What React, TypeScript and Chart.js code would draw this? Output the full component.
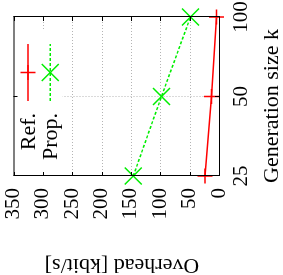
import React, { useEffect, useRef } from "react";
import { Chart, registerables } from "chart.js";

Chart.register(...registerables);

const generationSizes = [25, 50, 100];
const refOverhead = [23.7, 12.6, 4.3];
const propOverhead = [146, 98, 48.6];
const overheadTicks = [0, 50, 100, 150, 200, 250, 300, 350];
const sizeTicks = [25, 50, 100];
const seriesLabels = ["Ref.", "Prop."];
const seriesColors = ["#ff0000", "#00ee00"];
const xTitle = "Generation size k";
const yTitle = "Overhead [kbit/s]";

const FONT = '"Liberation Serif", "Times New Roman", serif';

function drawMarker(ctx: CanvasRenderingContext2D, style: string, x: number, y: number, r: number) {
  ctx.beginPath();
  if (style === "cross") {
    ctx.moveTo(x - r, y);
    ctx.lineTo(x + r, y);
    ctx.moveTo(x, y - r);
    ctx.lineTo(x, y + r);
  } else {
    const o = Math.cos(Math.PI / 4) * r;
    ctx.moveTo(x - o, y - o);
    ctx.lineTo(x + o, y + o);
    ctx.moveTo(x - o, y + o);
    ctx.lineTo(x + o, y - o);
  }
  ctx.stroke();
}

const overlay = {
  id: "overlay",
  beforeDatasetsDraw(chart: any) {
    const { ctx, chartArea: a, scales } = chart;
    ctx.save();
    ctx.strokeStyle = "#b4b4b4";
    ctx.lineWidth = 1;
    ctx.setLineDash([1, 2]);
    overheadTicks.forEach((v) => {
      if (v <= 0 || v >= 350) return;
      const y = Math.round(scales.y.getPixelForValue(v)) + 0.5;
      ctx.beginPath();
      ctx.moveTo(a.left, y);
      ctx.lineTo(a.right, y);
      ctx.stroke();
    });
    sizeTicks.forEach((k) => {
      if (k <= 25 || k >= 100) return;
      const x = Math.round(scales.x.getPixelForValue(k)) + 0.5;
      ctx.beginPath();
      ctx.moveTo(x, a.top);
      ctx.lineTo(x, a.bottom);
      ctx.stroke();
    });
    ctx.setLineDash([]);
    // opaque key box
    ctx.fillStyle = "#ffffff";
    ctx.fillRect(a.left + 4, a.top + 1, a.right - a.left - 17, 48);
    ctx.restore();
  },
  afterDatasetsDraw(chart: any) {
    const { ctx, chartArea: a, scales } = chart;
    ctx.save();
    // border
    ctx.strokeStyle = "#000";
    ctx.lineWidth = 1;
    ctx.strokeRect(a.left + 0.5, a.top + 0.5, a.right - a.left, a.bottom - a.top);
    // inward ticks (mirrored)
    ctx.beginPath();
    overheadTicks.forEach((v) => {
      const y = Math.round(scales.y.getPixelForValue(v)) + 0.5;
      ctx.moveTo(a.left, y);
      ctx.lineTo(a.left + 4, y);
      ctx.moveTo(a.right, y);
      ctx.lineTo(a.right - 4, y);
    });
    sizeTicks.forEach((k) => {
      const x = Math.round(scales.x.getPixelForValue(k)) + 0.5;
      ctx.moveTo(x, a.bottom);
      ctx.lineTo(x, a.bottom - 4);
      ctx.moveTo(x, a.top);
      ctx.lineTo(x, a.top + 4);
    });
    ctx.stroke();
    // key
    const styles = ["cross", "crossRot"];
    const radii = [7.5, 12];
    seriesLabels.forEach((label, i) => {
      const y = a.top + 14.5 + i * 22.3;
      const x0 = a.right - 84;
      const x1 = a.right - 27;
      ctx.strokeStyle = seriesColors[i];
      ctx.lineWidth = 1.5;
      ctx.setLineDash(i === 1 ? [3, 2] : []);
      ctx.beginPath();
      ctx.moveTo(x0, y);
      ctx.lineTo(x1, y);
      ctx.stroke();
      ctx.setLineDash([]);
      drawMarker(ctx, styles[i], (x0 + x1) / 2, y, radii[i]);
      ctx.fillStyle = "#000";
      ctx.font = `22px ${FONT}`;
      ctx.textAlign = "right";
      ctx.textBaseline = "middle";
      ctx.fillText(label, a.right - 96, y + 1);
    });
    ctx.restore();
  },
  afterDraw(chart: any) {
    const { ctx } = chart;
    ctx.save();
    ctx.fillStyle = "#000";
    ctx.font = `22px ${FONT}`;
    ctx.textAlign = "center";
    ctx.textBaseline = "alphabetic";
    ctx.fillText(xTitle, 169, 278);
    ctx.translate(10, 122);
    ctx.rotate(-Math.PI / 2);
    ctx.textBaseline = "middle";
    ctx.fillText(yTitle, 0, 0);
    ctx.restore();
  },
};

export default function App() {
  const ref = useRef<HTMLCanvasElement | null>(null);
  useEffect(() => {
    if (!ref.current) return;
    const chart = new Chart(ref.current, {
      type: "line",
      data: {
        datasets: [
          {
            label: seriesLabels[0],
            data: generationSizes.map((k, i) => ({ x: k, y: refOverhead[i] })),
            borderColor: seriesColors[0],
            backgroundColor: seriesColors[0],
            borderWidth: 1.5,
            pointStyle: "cross",
            pointRadius: 7.5,
            pointBorderWidth: 1.5,
            pointBorderColor: seriesColors[0],
            fill: false,
            tension: 0,
            clip: false,
          },
          {
            label: seriesLabels[1],
            data: generationSizes.map((k, i) => ({ x: k, y: propOverhead[i] })),
            borderColor: seriesColors[1],
            backgroundColor: seriesColors[1],
            borderWidth: 1.5,
            borderDash: [3, 2],
            pointStyle: "crossRot",
            pointRadius: 12,
            pointBorderWidth: 1.5,
            pointBorderColor: seriesColors[1],
            fill: false,
            tension: 0,
            clip: false,
          },
        ],
      } as any,
      options: {
        responsive: false,
        animation: false,
        devicePixelRatio: 1,
        layout: { padding: { top: 8, right: 17, left: 0, bottom: 0 } },
        plugins: { legend: { display: false }, tooltip: { enabled: false } },
        scales: {
          x: {
            type: "logarithmic",
            min: 25,
            max: 100,
            afterBuildTicks: (s: any) => {
              s.ticks = sizeTicks.map((v) => ({ value: v }));
            },
            afterFit: (s: any) => {
              s.height = 64;
              s.paddingLeft = 0;
              s.paddingRight = 0;
            },
            ticks: {
              callback: (v: any) => String(v),
              font: { family: FONT, size: 21 },
              color: "#000",
              padding: 10,
              maxRotation: 0,
              autoSkip: false,
            },
            grid: { display: false, drawTicks: false },
            border: { display: false },
          },
          y: {
            type: "linear",
            min: 0,
            max: 350,
            afterBuildTicks: (s: any) => {
              s.ticks = overheadTicks.map((v) => ({ value: v }));
            },
            afterFit: (s: any) => {
              s.width = 99;
              s.paddingTop = 0;
              s.paddingBottom = 0;
            },
            ticks: {
              font: { family: FONT, size: 21 },
              color: "#000",
              padding: 12,
              autoSkip: false,
            },
            grid: { display: false, drawTicks: false },
            border: { display: false },
          },
        },
      } as any,
      plugins: [overlay],
    });
    return () => chart.destroy();
  }, []);
  return (
    <div
      style={{
        position: "fixed",
        left: 0,
        top: 0,
        width: 283,
        height: 275,
        overflow: "hidden",
        background: "#fff",
      }}
    >
      <canvas
        ref={ref}
        width={275}
        height={283}
        style={{
          position: "absolute",
          left: 0,
          top: 0,
          width: 275,
          height: 283,
          transformOrigin: "0 0",
          transform: "translate(0px, 275px) rotate(-90deg)",
        }}
      />
    </div>
  );
}
